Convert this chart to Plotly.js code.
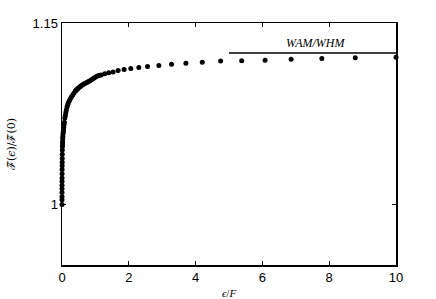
<!DOCTYPE html>
<html>
<head>
<meta charset="utf-8">
<script src="https://cdn.plot.ly/plotly-3.0.1.min.js"></script>
<style>html,body{margin:0;padding:0;background:#fff;}#chart{width:436px;height:299px;}</style>
</head>
<body>
<div id="chart"></div>
<script>
// epsilon / F values of the computed points
const epsRatio = [
  0, 0.0001, 0.0002, 0.0004, 0.0006, 0.0009, 0.0013, 0.0018, 0.0024, 0.0031,
  0.004, 0.005, 0.0063, 0.008, 0.010, 0.0125, 0.015, 0.018, 0.022, 0.026,
  0.031, 0.037, 0.044, 0.052, 0.061, 0.072, 0.085, 0.10, 0.115, 0.13,
  0.15, 0.17, 0.19, 0.22, 0.25, 0.28, 0.32, 0.36, 0.40, 0.425,
  0.45, 0.475, 0.50, 0.53, 0.56, 0.595, 0.63, 0.665, 0.70, 0.74,
  0.78, 0.825, 0.87, 0.915, 0.96, 1.01, 1.06, 1.115, 1.17, 1.28,
  1.40, 1.53, 1.68, 1.86, 2.06, 2.30, 2.56, 2.90, 3.28, 3.71,
  4.20, 4.75, 5.38, 6.08, 6.86, 7.78, 8.78, 10.0
];
// F~(eps)/F~(0)
const ratioF = [
  1.000, 1.004, 1.0065, 1.010, 1.013, 1.016, 1.019, 1.022, 1.0255, 1.029,
  1.032, 1.035, 1.038, 1.0415, 1.045, 1.048, 1.050, 1.052, 1.0545, 1.0565,
  1.0585, 1.0600, 1.0615, 1.0635, 1.066, 1.068, 1.0715, 1.0735, 1.0760, 1.0780,
  1.0805, 1.0825, 1.0840, 1.0858, 1.0873, 1.0888, 1.0905, 1.0922, 1.0938, 1.0945,
  1.0952, 1.0959, 1.0965, 1.0972, 1.0978, 1.0985, 1.0991, 1.0997, 1.1002, 1.1008,
  1.1014, 1.1021, 1.1029, 1.1037, 1.1045, 1.1053, 1.1061, 1.1066, 1.1071, 1.1080,
  1.1088, 1.1096, 1.1107, 1.1115, 1.1125, 1.1133, 1.1140, 1.1148, 1.1160, 1.1168,
  1.1176, 1.1185, 1.1189, 1.1193, 1.1201, 1.1206, 1.1212, 1.1217
];
// WAM/WHM reference level
const wamX = [5, 10];
const wamY = [1.1253, 1.1253];
const wamLabel = "WAM/WHM";
const xTicks = [0, 2, 4, 6, 8, 10];
const yTicks = [1, 1.15];
const yTickText = ["1", "1.15"];

const traces = [
  {x: epsRatio, y: ratioF, mode: 'markers', type: 'scatter',
   marker: {color: '#000', size: 5}, hoverinfo: 'none', cliponaxis: false},
  {x: wamX, y: wamY, mode: 'lines', type: 'scatter',
   line: {color: '#000', width: 1.5}, hoverinfo: 'none'}
];

const axisCommon = {
  showline: true, linecolor: '#000', linewidth: 1.5, mirror: 'ticks',
  ticks: 'inside', ticklen: 4, tickcolor: '#000', tickwidth: 1,
  showgrid: false, zeroline: false,
  tickfont: {family: 'Liberation Sans, Arial, sans-serif', size: 13, color: '#000'}
};

const layout = {
  width: 436, height: 299,
  margin: {l: 62, r: 40, t: 23, b: 34},
  paper_bgcolor: '#fff', plot_bgcolor: '#fff',
  showlegend: false,
  xaxis: Object.assign({}, axisCommon, {
    range: [0, 10], tickvals: xTicks,
    title: {text: '<i>ϵ</i>/<i>F</i>', standoff: 6,
            font: {family: 'Liberation Serif, serif', size: 11, color: '#000'}}
  }),
  yaxis: Object.assign({}, axisCommon, {
    range: [0.95, 1.15], tickvals: yTicks, ticktext: yTickText,
    title: {text: 'ℱ̃(<i>ϵ</i>)/ℱ̃(0)', standoff: 14,
            font: {family: 'DejaVu Serif, Liberation Serif, serif', size: 11, color: '#000'}}
  }),
  annotations: [{
    x: 7.6, y: wamY[0], xref: 'x', yref: 'y', yanchor: 'bottom', yshift: 1,
    text: '<i>' + wamLabel + '</i>', showarrow: false,
    font: {family: 'Liberation Serif, serif', size: 12, color: '#000'}
  }]
};

Plotly.newPlot('chart', traces, layout, {staticPlot: true, displayModeBar: false});
</script>
</body>
</html>
